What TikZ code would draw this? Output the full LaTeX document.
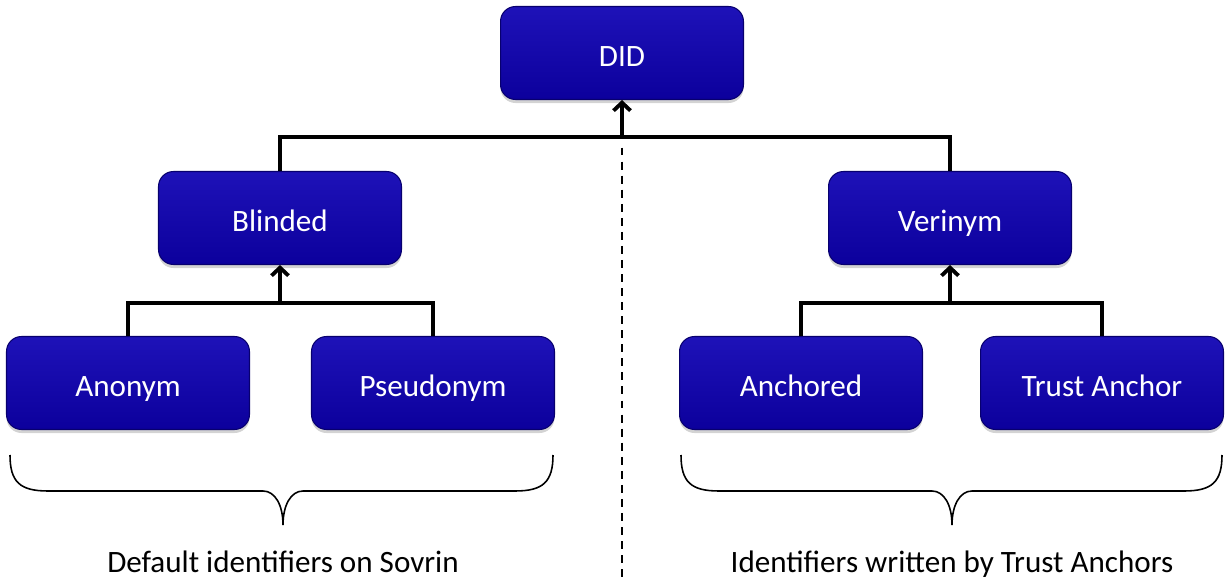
\documentclass[tikz,border=0pt]{standalone}
\usepackage{fontspec}
\setmainfont{Carlito}
\usetikzlibrary{arrows.meta,shadows}
\usepackage{xcolor}
\definecolor{didblue}{RGB}{12,0,156}
\definecolor{didtop}{RGB}{30,18,184}
\definecolor{didedge}{RGB}{8,0,110}

% curly brace under a group of boxes: left x, right x, tip x
\newcommand{\groupbrace}[3]{%
  \draw[bracket] (#1,455) .. controls (#1,482) and (#1+10,491) .. (#1+38,491)
    -- (#3-20,491) .. controls (#3-8,491) and (#3,505) .. (#3,525)
    .. controls (#3,505) and (#3+8,491) .. (#3+20,491)
    -- (#2-38,491) .. controls (#2-10,491) and (#2,482) .. (#2,455);}

\begin{document}
\begin{tikzpicture}[
    x=0.02cm, y=-0.02cm,
    box/.style={rectangle,rounded corners=0.3cm,minimum width=4.86cm,
                minimum height=1.86cm,top color=didtop,bottom color=didblue,
                draw=didedge,line width=0.6pt,text=white,
                text height=0.54cm,text depth=0pt,
                font=\fontsize{17.7}{21}\selectfont,
                drop shadow={opacity=0.35,shadow xshift=0pt,shadow yshift=-2pt}},
    link/.style={line width=2.2pt},
    bracket/.style={line width=0.9pt},
    note/.style={anchor=base,font=\fontsize{17.7}{21}\selectfont},
    >={Straight Barb[length=1.6mm,width=3.4mm]}
  ]
    \useasboundingbox (0,0) rectangle (1225,581);

    \node[box] (DID) at (622,53) {DID};
    \node[box] (B) at (280,218) {Blinded};
    \node[box] (V) at (950,218) {Verinym};
    \node[box] (A) at (128,383) {Anonym};
    \node[box] (P) at (433,383) {Pseudonym};
    \node[box] (AN) at (801,383) {Anchored};
    \node[box] (TA) at (1102,383) {Trust Anchor};

    \coordinate (j1) at (622,137);
    \coordinate (j2) at (280,303);
    \coordinate (j3) at (950,303);
    \coordinate (bot) at (622,581);

    % tree links
    \draw[link] (B.north) |- (j1) -| (V.north);
    \draw[link,->] (j1) -- (DID.south);
    \draw[link] (A.north) |- (j2) -| (P.north);
    \draw[link,->] (j2) -- (B.south);
    \draw[link] (AN.north) |- (j3) -| (TA.north);
    \draw[link,->] (j3) -- (V.south);

    % split line
    \draw[line width=1.2pt,dash pattern=on 4.5pt off 3.5pt] ([yshift=-6pt]j1) -- (bot);

    % braces and captions
    \groupbrace{10}{553}{283}
    \groupbrace{681}{1222}{952}
    \node[note] (capL) at (283,572) {Default identifiers on Sovrin};
    \node[note] (capR) at (952,572) {Identifiers written by Trust Anchors};
  \end{tikzpicture}
\end{document}
